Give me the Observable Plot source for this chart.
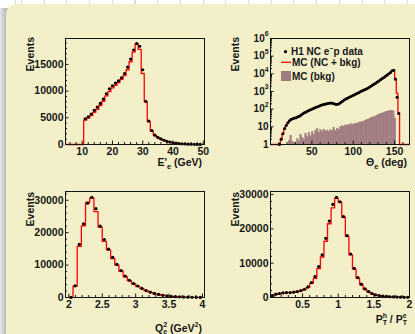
<!DOCTYPE html>
<html><head><meta charset="utf-8">
<script src="https://cdn.jsdelivr.net/npm/d3@7"></script>
<script src="https://cdn.jsdelivr.net/npm/@observablehq/plot@0.6"></script>
<style>
html,body{margin:0;padding:0;background:#fff;}
#page{position:relative;width:415px;height:334px;overflow:hidden;background:#fff;font-family:"Liberation Sans",Arial,sans-serif;}
#grid{position:absolute;left:0;top:0;width:415px;height:12px;background-image:repeating-linear-gradient(90deg,#d9d9ef 0,#d9d9ef 1px,transparent 1px,transparent 22.7px);background-position:21px 0;}
#shadow{position:absolute;left:0;top:8px;width:10px;bottom:0;background:linear-gradient(90deg,#e6e6e6,#bdbdbd 55%,#c8c8c8);}
#card{position:absolute;left:6px;top:4px;right:0;bottom:0;background:#f3f0c9;border-top-left-radius:10px;}
.panel{position:absolute;}
.panel svg{overflow:visible;white-space:pre;}
</style></head>
<body><div id="page"><div id="grid"></div><div id="shadow"></div><div id="card"></div>
<div class="panel" id="p1" style="left:0;top:0"></div>
<div class="panel" id="p2" style="left:205px;top:0"></div>
<div class="panel" id="p3" style="left:0;top:167px"></div>
<div class="panel" id="p4" style="left:205px;top:167px"></div>
</div>
<script>
// ---------- DATA ----------
// E'_e (GeV): 1 GeV bins
const eW = 1;
const eDataLo = 10.5;   // first data bin [10.5,11.5]
const eData = [4800,5200,5700,6400,7000,7700,8500,9500,10400,11000,11500,11900,12500,13300,14500,16000,17700,18900,18400,14000,8100,4400,2600,1750,1350,1050,800,600,450,330,240,170,120,90,65,45,32,22,15];
const eMcLo = 4.5;
const eMC = [0,0,0,0,0,0,4550,4950,5400,6000,6600,7300,8100,9100,9900,10600,11100,11600,12200,12900,14000,15500,17300,18900,17800,13300,8000,4300,2500,1700,1300,1000,780,580,430,320,230,165,120,85,60,42,30,20,14,9];

// Theta_e (deg): 2 deg bins
const thW = 2;
const thDataLo = 10;
const thData = [1,2,4,8,12,17,22,27,29,32,33,37,40,47,55,62,70,78,86,97,107,118,128,138,152,165,175,188,198,210,218,221,214,200,183,188,205,240,280,325,375,420,470,520,575,640,720,800,890,1000,1110,1230,1350,1500,1700,1950,2250,2600,2950,3400,3900,4600,5400,6300,7400,8700,10200,12000,14800,15800,5000,480,56];
const thMcLo = 0;
const thMC = [0,0,0,0,0,1.1,2.2,4.3,7.6,12,16.5,21,25,28,31,33.5,37,41,47,54,61,69,77,86,96,106,117,127,138,150,162,174,186,197,207,215,218,212,199,187,190,208,243,283,328,372,418,466,518,575,640,715,795,885,990,1100,1220,1350,1500,1690,1930,2230,2570,2940,3380,3900,4580,5350,6250,7350,8650,10100,11900,14600,15600,5500,800,60,0,0,0,0,0,0];
const thBkgLo = 20;
const thBkg = [0,1.6,3,1.4,1.2,1.3,2,1.5,3.5,2.4,1.8,4,2.6,4.5,3,5,3.6,6,7.5,4.5,6.5,5,7,5.5,6.2,5,6.5,5.5,9,6,8,7,9.5,11,10,12,11,13,12.5,14,13,15,14,17,18,18,20,22,24,26,30,32,35,38,42,48,52,56,60,66,72,75,78,82,75,30,0,0];

// log10 Q^2_e : 0.0625 bins
const qW = 0.0625;
const qLo = 2.0;
const qData = [60,3600,16400,22700,29100,30900,27400,22000,17900,14900,12400,10200,8300,6600,5300,4300,3550,2800,2150,1650,1250,950,700,520,380,280,200,140,100,70,50,35];
const qMC = [0,3500,15800,22100,29300,30700,26500,21700,17300,14700,12000,10000,8100,6400,5200,4200,3450,2750,2100,1600,1220,930,690,510,370,270,195,135,95,68,48,33];

// P_T^h / P_T^e : 0.05 bins
const pW = 0.05;
const pLo = 0.05;
const pData = [580,960,1160,1340,1450,1450,1540,1740,2030,2410,3080,4360,6100,9010,12400,17240,22270,27120,29160,27900,23550,18020,12680,8520,5810,3870,2500,1740,1160,760,580,400,300,220,160,120,90,60,40];
const pMC = [500,900,1100,1280,1400,1420,1500,1680,1950,2300,2900,4100,5600,8400,11800,16400,21500,26100,28900,27800,23400,17800,12400,8300,5600,3700,2400,1650,1100,730,540,380,280,200,150,110,80,55,38];

// tick values
const eXMajor = [10,20,30,40,50];
const eYMajor = [0,5000,10000,15000];
const thXMajor = [50,100,150];
const thYMajor = [1,10,100,1000,10000,100000,1000000];
const qXMajor = [2,2.5,3,3.5,4];
const qYMajor = [0,10000,20000,30000];
const pXMajor = [0.5,1,1.5,2];
const pYMajor = [0,10000,20000,30000];

// ---------- HELPERS ----------
const RED = "#ff0000", BKG = "#a07b80", INK = "#161616";
const FONT = "Liberation Sans, Arial, sans-serif";
function bins(lo, w, vals) { return vals.map((v,i)=>({x1: lo+i*w, x2: lo+(i+1)*w, xc: lo+(i+0.5)*w, v})); }
function stepPts(lo, w, vals, xmax) {
  const p = vals.map((v,i)=>({x: lo+i*w, v}));
  p.push({x: Math.min(lo+vals.length*w, xmax), v: vals[vals.length-1]});
  return p;
}
function seq(a, b, s, exclude) {
  const out = []; const n = Math.round((b-a)/s);
  for (let i=0;i<=n;i++){ const v = +(a+i*s).toFixed(6); if(!exclude.some(e=>Math.abs(e-v)<1e-9)) out.push(v); }
  return out;
}
function frameMarks(xMaj, xMin, yMaj, yMin, pw, ph) {
  return [
    Plot.frame({stroke: INK, strokeWidth: 1}),
    Plot.tickX(xMaj, {x: d=>d, insetTop: ph-3.5, stroke: INK}),
    Plot.tickX(xMin, {x: d=>d, insetTop: ph-2, stroke: INK}),
    Plot.tickY(yMaj, {y: d=>d, insetRight: pw-3.5, stroke: INK}),
    Plot.tickY(yMin, {y: d=>d, insetRight: pw-2, stroke: INK})
  ];
}
function xLabels(ticks) {
  return Plot.text(ticks, {x: d=>d, frameAnchor: "bottom", lineAnchor: "top", dy: 3, text: d=>String(d), fontSize: 10.5, fontWeight: "bold", fill: INK});
}
function yLabels(ticks) {
  return Plot.text(ticks, {y: d=>d, frameAnchor: "left", textAnchor: "end", dx: -2, text: d=>String(d), fontSize: 10.5, fontWeight: "bold", fill: INK});
}
const STYLE = {background: "transparent", fontFamily: FONT, overflow: "visible"};
function yTitle(svg, x, yTop) {
  d3.select(svg).append("text").attr("transform", `translate(${x},${yTop}) rotate(-90)`)
    .attr("text-anchor","end").attr("font-size",10.5).attr("font-weight","bold").attr("fill",INK)
    .attr("font-family",FONT).text("Events");
}
function xTitle(svg, x, y, parts) {
  const t = d3.select(svg).append("text").attr("x",x).attr("y",y).attr("text-anchor","end")
    .attr("font-size",10.5).attr("font-weight","bold").attr("fill",INK).attr("font-family",FONT);
  for (const p of parts) {
    const s = t.append("tspan").text(p.t);
    if (p.dy) s.attr("dy", p.dy);
    if (p.dx) s.attr("dx", p.dx);
    if (p.fs) s.attr("font-size", p.fs);
  }
}

// ---------- PANEL 1 ----------
{
  const pw = 139, ph = 106;
  const svg = Plot.plot({
    width: 210, height: 170, marginLeft: 65, marginRight: 6, marginTop: 38, marginBottom: 26,
    style: STYLE,
    x: {domain: [4.5, 50.4], axis: null},
    y: {domain: [0, 19850], axis: null},
    marks: [
      Plot.line(stepPts(eMcLo, eW, eMC, 50.4), {x: "x", y: "v", curve: "step-after", stroke: RED, strokeWidth: 1.3}),
      Plot.dot(bins(eDataLo, eW, eData), {x: "xc", y: "v", r: 1.6, fill: "#000", stroke: "none"}),
      ...frameMarks(eXMajor, seq(6,50,2,eXMajor), eYMajor, seq(1000,19000,1000,eYMajor), pw, ph),
      xLabels(eXMajor), yLabels(eYMajor)
    ]
  });
  document.getElementById("p1").appendChild(svg);
  yTitle(svg, 33.5, 37);
  xTitle(svg, 202, 166, [{t:"E'"},{t:"e",fs:7.5,dy:2.5},{t:" (GeV)",dy:-2.5}]);
}

// ---------- PANEL 2 ----------
{
  const pw = 139, ph = 106;
  const dec = thYMajor;
  const minors = [];
  for (let k=0;k<6;k++) for (let m=2;m<=9;m++) minors.push(m*Math.pow(10,k));
  const sup = {100:"2",1000:"3",10000:"4",100000:"5",1000000:"6"};
  const svg = Plot.plot({
    width: 210, height: 170, marginLeft: 65, marginRight: 6, marginTop: 38, marginBottom: 26,
    style: STYLE,
    x: {domain: [0, 168], axis: null},
    y: {type: "log", domain: [1, 1e6], axis: null},
    marks: [
      Plot.rect(bins(thBkgLo, thW, thBkg).filter(d=>d.v>1), {x1: "x1", x2: "x2", y1: 1, y2: "v", fill: BKG, stroke: BKG, strokeWidth: 0.4}),
      Plot.line(stepPts(thMcLo, thW, thMC, 168), {x: "x", y: d=>Math.max(d.v,1), curve: "step-after", stroke: RED, strokeWidth: 1.3}),
      Plot.dot(bins(thDataLo, thW, thData).filter(d=>d.v>0), {x: "xc", y: "v", r: 1.5, fill: "#000", stroke: "none"}),
      ...frameMarks(thXMajor, seq(10,160,10,thXMajor), dec, minors, pw, ph),
      xLabels(thXMajor),
      Plot.text(dec.filter(d=>d<100), {y: d=>d, frameAnchor: "left", textAnchor: "end", dx: -2, text: d=>String(d), fontSize: 10, fontWeight: "bold", fill: INK}),
      Plot.text(dec.filter(d=>d>=100), {y: d=>d, frameAnchor: "left", textAnchor: "end", dx: -5.8, text: d=>"10", fontSize: 10, fontWeight: "bold", fill: INK}),
      Plot.text(dec.filter(d=>d>=100), {y: d=>d, frameAnchor: "left", textAnchor: "end", dx: -2, dy: -4.5, text: d=>sup[d], fontSize: 6.8, fontWeight: "bold", fill: INK})
    ]
  });
  document.getElementById("p2").appendChild(svg);
  yTitle(svg, 33.5, 37);
  xTitle(svg, 202, 166, [{t:"Θ"},{t:"e",fs:7.5,dy:2.5},{t:" (deg)",dy:-2.5}]);
  // legend
  const g = d3.select(svg).append("g").attr("font-family",FONT).attr("font-weight","bold").attr("font-size",10).attr("fill",INK).attr("text-anchor","start");
  g.append("circle").attr("cx",80.5).attr("cy",51.7).attr("r",1.6).attr("fill","#000");
  const t1 = g.append("text").attr("x",86).attr("y",55.2).attr("text-anchor","start");
  t1.append("tspan").text("H1 NC e");
  t1.append("tspan").text("−").attr("font-size",7).attr("dy",-3.8);
  t1.append("tspan").text("p data").attr("dy",3.8);
  g.append("line").attr("x1",76).attr("x2",86).attr("y1",62.3).attr("y2",62.3).attr("stroke",RED).attr("stroke-width",1.3);
  g.append("text").attr("x",87).attr("y",65.8).attr("text-anchor","start").text("MC (NC + bkg)");
  g.append("rect").attr("x",76).attr("y",71).attr("width",10).attr("height",10).attr("fill",BKG);
  g.append("text").attr("x",87).attr("y",79.6).attr("text-anchor","start").text("MC (bkg)");
}

// ---------- PANEL 3 ----------
{
  const pw = 139, ph = 106;
  const svg = Plot.plot({
    width: 210, height: 167, marginLeft: 65, marginRight: 6, marginTop: 24, marginBottom: 37,
    style: STYLE,
    x: {domain: [1.95, 4.03], axis: null},
    y: {domain: [0, 32700], axis: null},
    marks: [
      Plot.line(stepPts(qLo, qW, qMC, 4.03), {x: "x", y: "v", curve: "step-after", stroke: RED, strokeWidth: 1.3}),
      Plot.dot(bins(qLo, qW, qData), {x: "xc", y: "v", r: 1.6, fill: "#000", stroke: "none"}),
      ...frameMarks(qXMajor, seq(2,4,0.1,qXMajor), qYMajor, seq(2000,32000,2000,qYMajor), pw, ph),
      xLabels(qXMajor), yLabels(qYMajor)
    ]
  });
  document.getElementById("p3").appendChild(svg);
  yTitle(svg, 33.5, 25);
  xTitle(svg, 202, 164.5, [{t:"Q"},{t:"2",fs:7,dy:-4.5},{t:"e",fs:7,dx:-3.9,dy:7},{t:" (GeV",dy:-2.5},{t:"2",fs:7,dy:-4.5},{t:")",dy:4.5}]);
}

// ---------- PANEL 4 ----------
{
  const pw = 139, ph = 106;
  const svg = Plot.plot({
    width: 210, height: 167, marginLeft: 65, marginRight: 6, marginTop: 24, marginBottom: 37,
    style: STYLE,
    x: {domain: [0.05, 2.0], axis: null},
    y: {domain: [0, 30900], axis: null},
    marks: [
      Plot.line(stepPts(pLo, pW, pMC, 2.0), {x: "x", y: "v", curve: "step-after", stroke: RED, strokeWidth: 1.3}),
      Plot.dot(bins(pLo, pW, pData), {x: "xc", y: "v", r: 1.6, fill: "#000", stroke: "none"}),
      ...frameMarks(pXMajor, seq(0.1,2,0.1,pXMajor), pYMajor, seq(2000,30000,2000,pYMajor), pw, ph),
      xLabels(pXMajor), yLabels(pYMajor)
    ]
  });
  document.getElementById("p4").appendChild(svg);
  yTitle(svg, 33.5, 25);
  xTitle(svg, 202, 155.5, [{t:"P"},{t:"h",fs:7,dy:-4.5},{t:"T",fs:7,dx:-4.3,dy:7},{t:" / P",dy:-2.5},{t:"e",fs:7,dy:-4.5},{t:"T",fs:7,dx:-3.9,dy:7}]);
}
</script>
</body></html>
